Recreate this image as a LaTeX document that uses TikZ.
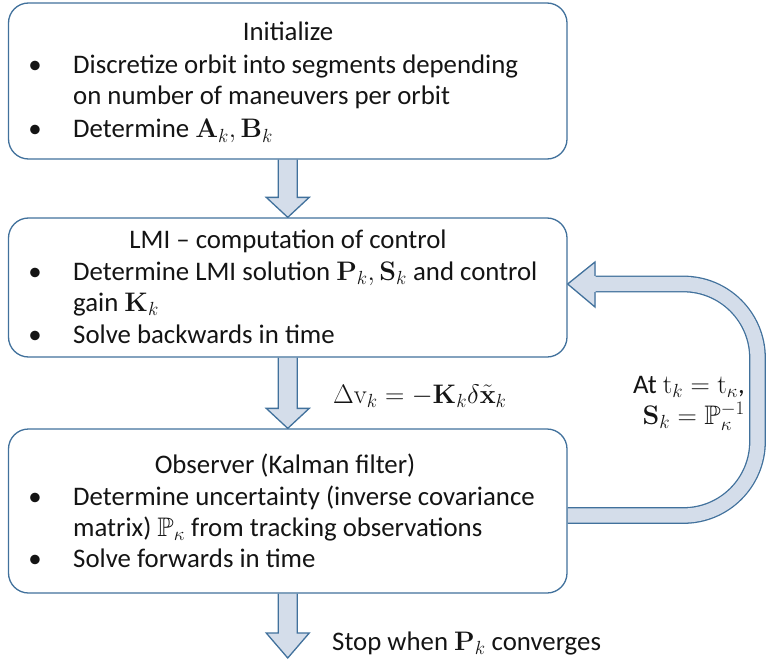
\RequirePackage{fix-cm}
\documentclass[tikz,border=0pt]{standalone}
\usepackage{amsmath,amssymb}
\usepackage[no-math]{fontspec}
\setmainfont{Carlito}
\DeclareMathSizes{26.8}{26.8}{19}{14}
\usetikzlibrary{calc,backgrounds}
\definecolor{boxline}{RGB}{65,113,156}
\definecolor{arrfill}{RGB}{212,221,234}
\definecolor{txt}{RGB}{20,20,20}
\tikzset{
  stepbox/.style={draw=boxline, line width=1.3pt, fill=white, rounded corners=20pt, minimum width=558.5pt, inner sep=0pt},
  txtline/.style={inner sep=0pt, anchor=base west, text=txt},
  ttl/.style={inner sep=0pt, anchor=base, text=txt},
  bul/.style={inner sep=0pt, anchor=base, text=txt},
  rlabel/.style={inner sep=0pt, anchor=base east, text=txt},
  fatarrow/.style={draw=boxline, line width=1.3pt, fill=arrfill, line join=miter},
}
\begin{document}
\begin{tikzpicture}[x=1pt,y=-1pt]
\fontsize{26.8}{32}\selectfont
\useasboundingbox (0,0) rectangle (767,663);

% boxes
\node[stepbox, minimum height=156pt] (b1) at (287.75,81) {};
\node[stepbox, minimum height=139pt] (b2) at (287.75,287.5) {};
\node[stepbox, minimum height=164pt] (b3) at (287.75,511) {};

\begin{scope}[on background layer]
% feedback arrow (observer -> LMI)
\coordinate (fbstart) at (b3.east |- 0,515.5);
\coordinate (fbend) at (595,284);
\coordinate (fbtip) at (b2.east |- 0,284);
\draw[boxline, line width=1.3pt, double=arrfill, double distance=14.2pt, rounded corners=74pt]
  (fbstart) -- (757.5,515.5) -- (757.5,284) -- (fbend);
\fill[arrfill] ($(fbend)+(0.5,-22)$) -- (fbtip) -- ($(fbend)+(0.5,23)$) -- cycle;
\draw[boxline, line width=1.3pt, line join=miter]
  ($(fbend)+(0,-8.2)$) -- ($(fbend)+(0,-22)$) -- (fbtip) -- ($(fbend)+(0,23)$) -- ($(fbend)+(0,8.2)$);

% down arrows
\coordinate (e3) at (287.75,658);
\foreach \s/\e/\h in {b1.south/b2.north/20, b2.south/b3.north/20, b3.south/e3/25}{
  \filldraw[fatarrow] ($(\s)+(-9.5,0)$) -- ($(\e)+(-9.5,-\h)$) -- ($(\e)+(-21.5,-\h)$) -- (\e)
    -- ($(\e)+(21.5,-\h)$) -- ($(\e)+(9.5,-\h)$) -- ($(\s)+(9.5,0)$);
}
\end{scope}

% box 1 text
\node[ttl] (t1) at (288,41) {Initialize};
\node[bul] (u11) at (35,74) {•};
\node[txtline] (l11) at (73,74) {Discretize orbit into segments depending};
\node[txtline] (l12) at (73,105) {on number of maneuvers per orbit};
\node[bul] (u12) at (35,138) {•};
\node[txtline] (l13) at (73,138) {Determine $\mathbf{A}_k, \mathbf{B}_k$};

% box 2 text
\node[ttl] (t2) at (288,248) {LMI – computation of control};
\node[bul] (u21) at (35,280) {•};
\node[txtline] (l21) at (73,280) {Determine LMI solution $\mathbf{P}_k, \mathbf{S}_k$ and control};
\node[txtline] (l22) at (73,311) {gain $\mathbf{K}_k$};
\node[bul] (u22) at (35,343) {•};
\node[txtline] (l23) at (73,343) {Solve backwards in time};

% box 3 text
\node[ttl] (t3) at (285,473) {Observer (Kalman filter)};
\node[bul] (u31) at (35,505) {•};
\node[txtline] (l31) at (73,505) {Determine uncertainty (inverse covariance};
\node[txtline] (l32) at (73,536) {matrix) $\mathbb{P}_\kappa$ from tracking observations};
\node[bul] (u32) at (35,567) {•};
\node[txtline] (l33) at (73,567) {Solve forwards in time};

% labels
\node[txtline] (dv) at (333,403) {$\Delta\mathrm{v}_k = -\mathbf{K}_k\delta\tilde{\mathbf{x}}_k$};
\node[rlabel] (at1) at (745,393) {At $\mathrm{t}_k = \mathrm{t}_\kappa$,};
\node[rlabel] (at2) at (745,424) {$\mathbf{S}_k = \mathbb{P}_\kappa^{-1}$};
\node[txtline] (stop) at (332,650) {Stop when $\mathbf{P}_k$ converges};
\end{tikzpicture}
\end{document}
